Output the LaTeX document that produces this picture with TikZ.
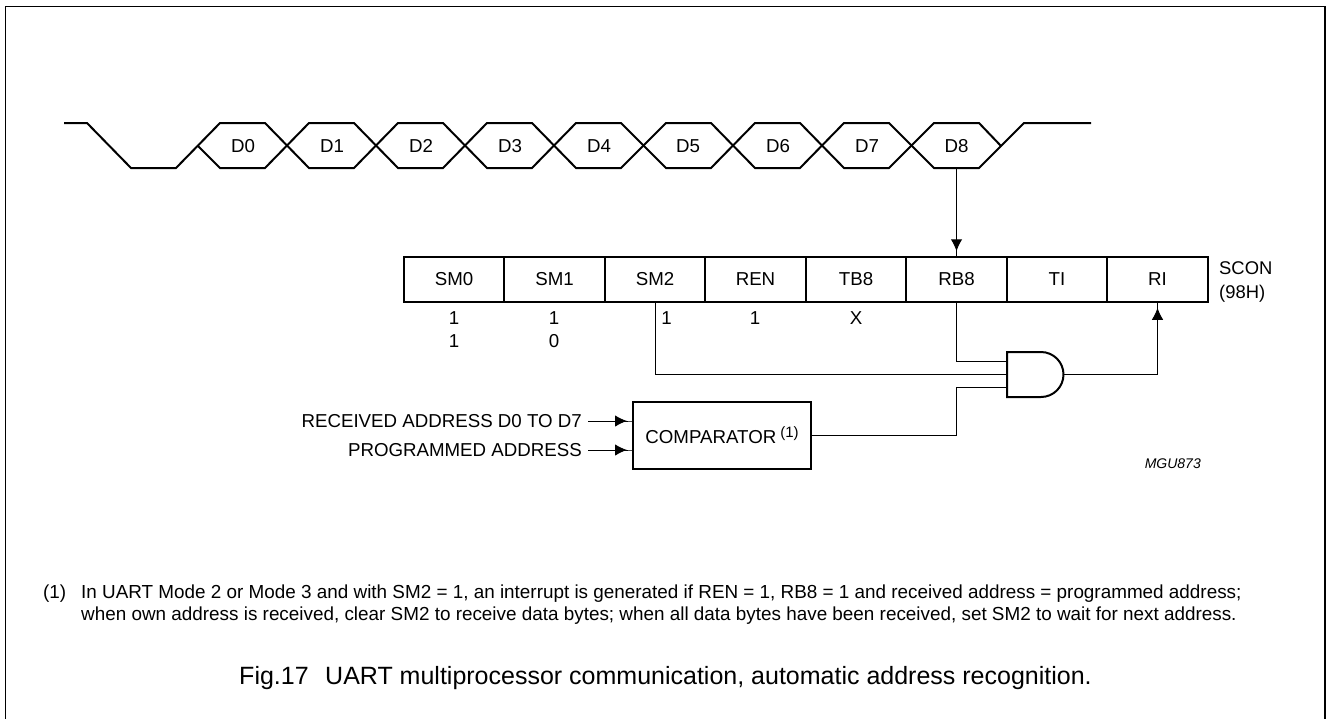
\documentclass[tikz,border=0pt]{standalone}
\usepackage{fontspec}
\setmainfont{Liberation Sans}
\usetikzlibrary{arrows.meta,positioning,calc}

\begin{document}
\begin{tikzpicture}[x=1pt, y=-1pt, node distance=0pt, >={Latex[length=12pt,width=11.5pt,sep=0pt]Square[length=6pt,width=1pt,sep=0pt]}, font=\fontsize{18.7}{22}\selectfont]

%local definitions
\tikzstyle{RegCell} = [draw, line width=2pt, rectangle, inner sep=0pt, outer sep=0pt, minimum height=44.5pt, minimum width=100.5pt]
\tikzstyle{Comparator} = [draw, line width=2pt, rectangle, inner sep=0pt, outer sep=0pt, minimum height=67pt, minimum width=178pt]
\tikzstyle{BitLabel} = [inner sep=0pt]
\tikzstyle{DataLabel} = [inner sep=0pt, outer sep=0pt, text height=13.4pt, text depth=0pt, minimum height=45pt]
\tikzstyle{Wave} = [line width=2pt, line join=miter]
\tikzstyle{Signal} = [line width=1pt]
\tikzstyle{arrowstyle} = [line width=1pt, ->]

\useasboundingbox (0,0) rectangle (1327,718);
\draw [line width=1.4pt] (5.5,720) -- (5.5,6.5) -- (1325,6.5) -- (1325,720);

%waveform
	\draw [Wave] (64,123) -- (87,123) -- (131,168) -- (176,168) -- (220,123) -- (265,123) -- (309,168) -- (354,168) -- (398,123)
		-- (443,123) -- (487,168) -- (532,168) -- (576,123) -- (621,123) -- (666,168) -- (711,168) -- (755,123) -- (800,123) -- (844,168)
		-- (889,168) -- (934,123) -- (979,123) -- (1001,146);
	\draw [Wave] (198,146) -- (220,168) -- (265,168) -- (309,123) -- (354,123) -- (398,168) -- (443,168) -- (487,123) -- (532,123)
		-- (576,168) -- (621,168) -- (666,123) -- (711,123) -- (755,168) -- (800,168) -- (844,123) -- (889,123) -- (934,168) -- (979,168)
		-- (1024,123) -- (1091,123);
	\foreach \i/\x in {0/243,1/332,2/421,3/510,4/599,5/688,6/778,7/867,8/956.5}
		\node [DataLabel] (D\i) at (\x,145.5) {D\i};

%register
	\node [RegCell] (SM0) at (454,279.5) {SM0};
	\node [RegCell, right=of SM0] (SM1) {SM1};
	\node [RegCell, right=of SM1] (SM2) {SM2};
	\node [RegCell, right=of SM2] (REN) {REN};
	\node [RegCell, right=of REN] (TB8) {TB8};
	\node [RegCell, right=of TB8] (RB8) {RB8};
	\node [RegCell, right=of RB8] (TI) {TI};
	\node [RegCell, right=of TI] (RI) {RI};
	\node [anchor=west, align=left, inner sep=0pt, font=\fontsize{18.4}{24}\selectfont] (SCON) at (1219,281.5) {SCON\\(98H)};

	\node [BitLabel] (bitA) at (454,318) {1};
	\node [BitLabel] (bitB) at (454,341) {1};
	\node [BitLabel] (bitC) at (554,318) {1};
	\node [BitLabel] (bitD) at (554,341) {0};
	\node [BitLabel] (bitE) at (666.5,318) {1};
	\node [BitLabel] (bitF) at (755,318) {1};
	\node [BitLabel] (bitG) at (856,318) {X};

%gate and comparator
	\node [Comparator] (Compare) at (722,435.5) {COMPARATOR\hspace{4pt}\raisebox{6pt}{\fontsize{15}{15}\selectfont(1)}};
	\node [anchor=east, inner sep=0pt] (RecAddr) at (582,421) {RECEIVED ADDRESS D0 TO D7};
	\node [anchor=east, inner sep=0pt] (ProgAddr) at (582,450) {PROGRAMMED ADDRESS};

	\draw [Wave] (1007,352) -- (1007,397) -- (1041,397) arc (90:-90:22.5) -- cycle;
	\coordinate (AndA) at (1007,361);
	\coordinate (AndB) at (1007,374.5);
	\coordinate (AndC) at (1007,387.5);
	\coordinate (AndOut) at (1063.5,374.5);

%connections
	\draw [arrowstyle] (D8.south) -- (D8.south -| RB8) -- (RB8.north);
	\draw [Signal] (RB8.south) |- (AndA);
	\draw [Signal] (SM2.south) |- (AndB);
	\draw [Signal] (Compare.east) -- (Compare.east -| RB8) -- (RB8 |- AndC) -- (AndC);
	\draw [arrowstyle] (AndOut) -| (RI.south);
	\draw [arrowstyle] ($(RecAddr.east)+(6,0)$) -- (RecAddr -| Compare.west);
	\draw [arrowstyle] ($(ProgAddr.east)+(6,0)$) -- (ProgAddr -| Compare.west);

%notes
	\node [anchor=east, inner sep=0pt, font=\fontsize{14}{16}\selectfont\itshape] (Mgu) at (1201,464) {MGU873};
	\node [anchor=north west, align=left, inner sep=0pt, font=\fontsize{18.88}{22}\selectfont] (NoteNum) at (43,584.5) {(1)};
	\node [anchor=north west, align=left, inner sep=0pt, font=\fontsize{18.88}{22}\selectfont] (Note) at (81,584.5) {In UART Mode 2 or Mode 3 and with SM2 = 1, an interrupt is generated if REN = 1, RB8 = 1 and received address = programmed address;\\when own address is received, clear SM2 to receive data bytes; when all data bytes have been received, set SM2 to wait for next address.};
	\node [anchor=base, inner sep=0pt, font=\fontsize{25}{28}\selectfont] (Caption) at (665.5,684) {Fig.17\hspace{16.5pt}UART multiprocessor communication, automatic address recognition.};

\end{tikzpicture}
\end{document}
